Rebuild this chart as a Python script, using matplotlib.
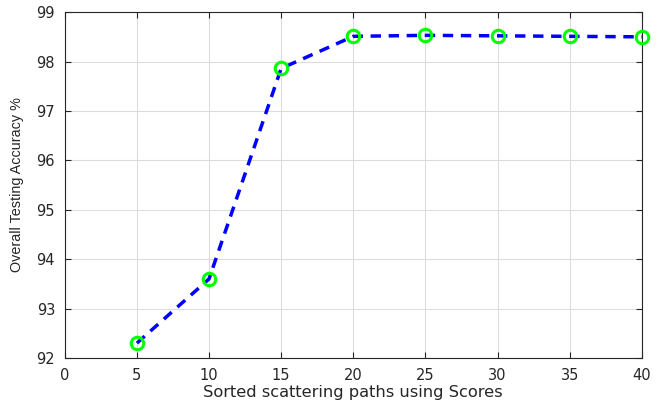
import numpy as np
import matplotlib.pyplot as plt

plt.rcParams["font.family"] = ["DejaVu Sans"]

paths = [5, 10, 15, 20, 25, 30, 35, 40]
accuracy = [92.30, 93.60, 97.86, 98.51, 98.53, 98.52, 98.51, 98.50]

fig = plt.figure(figsize=(6.61, 4.04), dpi=100)
axis = fig.add_axes([0.098, 0.114, 0.873, 0.856])

axis.plot(paths, accuracy, linestyle="--", color="blue", linewidth=2.5,
          dashes=(3, 2.2), marker="o", markersize=9, markerfacecolor="none",
          markeredgecolor="#00ff00", markeredgewidth=2.2, clip_on=False, zorder=3)

axis.set_xlim(0, 40)
axis.set_ylim(92, 99)
axis.set_xticks(np.arange(0, 41, 5))
axis.set_yticks(np.arange(92, 100, 1))
axis.tick_params(direction="in", labelsize=10.5, top=True, right=True,
                 length=4, width=0.8, colors="#262626", pad=7)
axis.grid(True, color="#dcdcdc", linewidth=0.8)
axis.set_axisbelow(True)
for s in axis.spines.values():
    s.set_color("#262626")
    s.set_linewidth(0.8)

axis.set_xlabel("Sorted scattering paths using Scores", fontsize=11.7,
                color="#262626", labelpad=1.5)
axis.set_ylabel("Overall Testing Accuracy %", fontsize=10.4, color="#262626",
                family="Liberation Sans", labelpad=9)

plt.savefig("out.png", dpi=100)
